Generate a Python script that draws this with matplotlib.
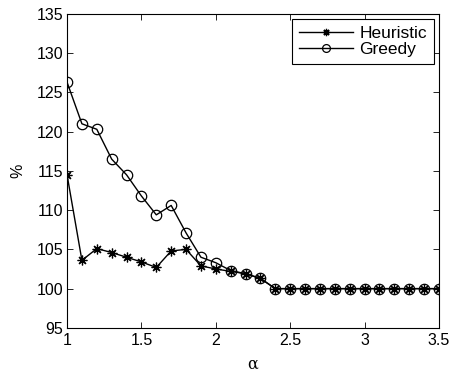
import matplotlib

matplotlib.use("Agg")
import matplotlib.pyplot as plt
import numpy as np

# alpha values 1.0 .. 3.5 step 0.1
alpha = [1.0, 1.1, 1.2, 1.3, 1.4, 1.5, 1.6, 1.7, 1.8, 1.9, 2.0, 2.1, 2.2,
         2.3, 2.4, 2.5, 2.6, 2.7, 2.8, 2.9, 3.0, 3.1, 3.2, 3.3, 3.4, 3.5]
heuristic = [114.5, 103.6, 105.1, 104.6, 104.0, 103.4, 102.7, 104.8, 105.0,
             102.9, 102.5, 102.2, 101.9, 101.3, 100, 100, 100, 100, 100,
             100, 100, 100, 100, 100, 100, 100]
greedy = [126.3, 121.0, 120.3, 116.5, 114.5, 111.8, 109.4, 110.6, 107.1,
          104.0, 103.3, 102.3, 101.9, 101.3, 100, 100, 100, 100, 100,
          100, 100, 100, 100, 100, 100, 100]

xticks = [1, 1.5, 2, 2.5, 3, 3.5]
xticklabels = ["1", "1.5", "2", "2.5", "3", "3.5"]
yticks = [95, 100, 105, 110, 115, 120, 125, 130, 135]

plt.rcParams.update({
    "font.family": "Liberation Sans",
    "font.size": 11.5,
    "xtick.direction": "in",
    "ytick.direction": "in",
    "xtick.top": True,
    "ytick.right": True,
})

fig = plt.figure(figsize=(4.53, 3.76), dpi=100)
ax = fig.add_axes([0.148, 0.128, 0.821, 0.835])

# MATLAB-style asterisk: 8 spokes
ax.plot(alpha, heuristic, color="black", lw=1.0, marker=(8, 2, 0), ms=7,
        markeredgewidth=0.9, label="Heuristic")
ax.plot(alpha, greedy, color="black", lw=1.0, marker="o", ms=7.5,
        mfc="none", markeredgewidth=0.9, label="Greedy")

ax.set_xlim(1, 3.5)
ax.set_ylim(95, 135)
ax.set_xticks(xticks)
ax.set_xticklabels(xticklabels)
ax.set_yticks(yticks)
ax.tick_params(length=4, width=0.6)
ax.tick_params(axis="x", pad=4)
ax.tick_params(axis="y", pad=3)
for s in ax.spines.values():
    s.set_linewidth(0.8)

ax.set_xlabel("α", family="DejaVu Serif", labelpad=5)
ax.set_ylabel("%", labelpad=8)

leg = ax.legend(loc="upper right", fancybox=False, edgecolor="black",
                framealpha=1, fontsize=12.5, markerscale=0.75,
                handlelength=3.1, borderpad=0.4, labelspacing=0.05,
                handletextpad=0.35, borderaxespad=0.3)
leg.get_frame().set_linewidth(0.8)

fig.savefig("out.png", dpi=100)
